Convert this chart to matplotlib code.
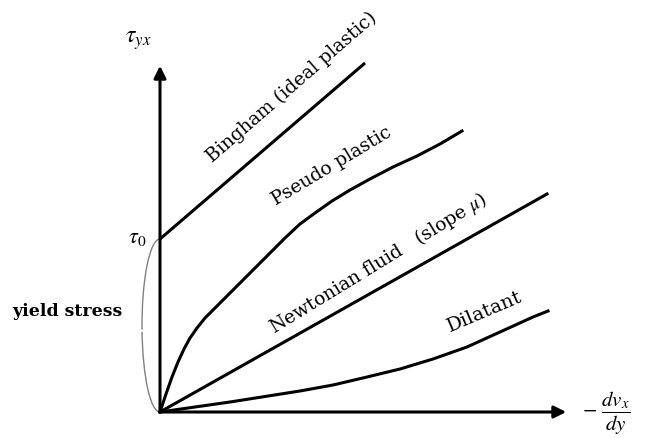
import numpy as np
from matplotlib import pyplot as plt
from matplotlib.patches import Arc

plt.rcParams["mathtext.fontset"] = "stix"

# shear rate (x) and shear stress (y) in arbitrary units, origin at the axes corner
bingham_x = [0, 205]
bingham_y = [173, 349]

pseudo_x = [0, 6, 12, 18, 24, 30, 37, 45, 55, 67, 80, 93, 107, 125, 140, 155, 172, 190, 210, 233, 257, 280, 302]
pseudo_y = [0, 18, 35, 50, 63, 74, 84, 94, 104, 116, 129, 142, 156, 174, 188, 199, 211, 222, 233, 245, 256, 268, 281]

newton_x = [0, 387]
newton_y = [0, 218]

dilatant_x = [0, 70, 140, 173, 207, 240, 273, 307, 340, 373, 388]
dilatant_y = [0, 10, 21, 27, 35, 43, 53, 65, 80, 95, 101]

tau0 = 173

fig = plt.figure(figsize=(6.46, 4.39), dpi=100)
ax = fig.add_axes([0, 0, 1, 1])
ax.set_xlim(-160, 486)
ax.set_ylim(-26, 413)
ax.axis("off")

serif = "DejaVu Serif"
lw = 2.2

ax.plot(bingham_x, bingham_y, color="black", lw=lw, solid_capstyle="butt")
ax.plot(pseudo_x, pseudo_y, color="black", lw=lw, solid_joinstyle="round")
ax.plot(newton_x, newton_y, color="black", lw=lw)
ax.plot(dilatant_x, dilatant_y, color="black", lw=lw, solid_joinstyle="round")

# axes arrows
ax.annotate("", xy=(0, 349), xytext=(0, -1),
            arrowprops=dict(arrowstyle="-|>", color="black", lw=2.2, mutation_scale=18))
ax.annotate("", xy=(409, 0), xytext=(-1, 0),
            arrowprops=dict(arrowstyle="-|>", color="black", lw=2.2, mutation_scale=18))

# yield stress bracket
ax.add_patch(Arc((0, tau0 / 2), 36, tau0, theta1=90, theta2=193, color="gray", lw=1))
ax.add_patch(Arc((0, tau0 / 2), 36, tau0, theta1=199, theta2=270, color="gray", lw=1))

ax.text(-23, tau0 + 2, r"$\tau_0$", fontsize=16, ha="center", va="center")
ax.text(-22, 373, r"$\tau_{yx}$", fontsize=17, ha="center", va="center")
ax.text(422, 0, r"$-\ \dfrac{dv_x}{dy}$", fontsize=15, ha="left", va="center")
ax.text(-93, 101, "yield stress", fontsize=12.5, fontweight="bold", family=serif,
        ha="center", va="center")

ax.text(132, 326, "Bingham (ideal plastic)", fontsize=13.5, family=serif,
        rotation=41, ha="center", va="center")
ax.text(172, 247, "Pseudo plastic", fontsize=13.5, family=serif,
        rotation=31, ha="center", va="center")
ax.text(218, 150, "Newtonian fluid   (slope $\\mu$)", fontsize=13.5, family=serif,
        rotation=31.5, ha="center", va="center")
ax.text(325, 101, "Dilatant", fontsize=14, family=serif,
        rotation=23, ha="center", va="center")

plt.savefig("out.png", dpi=100)
